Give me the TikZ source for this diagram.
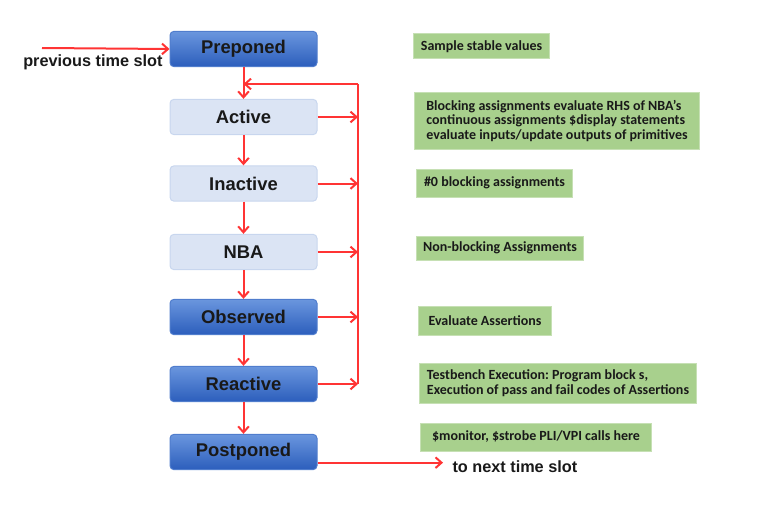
\documentclass[tikz,border=0pt]{standalone}
\usepackage{fontspec}
\setmainfont{Liberation Sans}
\newfontfamily\notefont{Carlito}
\usetikzlibrary{arrows.meta}
\tikzset{every picture/.style={line width=0.75pt}}
\definecolor{flowred}{RGB}{255,52,52}
\definecolor{darktop}{RGB}{106,150,222}
\definecolor{darkbot}{RGB}{44,94,188}
\definecolor{darkedge}{RGB}{80,125,205}
\definecolor{lightfill}{RGB}{219,228,244}
\definecolor{lightedge}{RGB}{200,214,238}
\definecolor{notefill}{RGB}{168,208,141}
\definecolor{noteedge}{RGB}{198,224,180}

\begin{document}
\frenchspacing
\begin{tikzpicture}[x=0.75pt,y=0.75pt,yscale=-1,xscale=1,
  region/.style={rounded corners=3pt,minimum width=110.25pt,minimum height=26.5pt,inner sep=0.75pt,font=\fontsize{13.8}{16}\selectfont\bfseries,text=black!90},
  regiondark/.style={region,draw=darkedge,top color=darktop,bottom color=darkbot},
  regionlight/.style={region,draw=lightedge,fill=lightfill},
  note/.style={anchor=west,draw=noteedge,fill=notefill,inner xsep=4.5pt,inner ysep=0.75pt,align=left,text=black!90,font=\notefont\fontsize{10.5}{10.8}\selectfont\bfseries},
  flow/.style={draw=flowred,line width=1.5pt,-{Straight Barb[length=4.5pt,width=8pt]}},
  slot/.style={inner sep=0.75pt,font=\fontsize{12.2}{14}\selectfont\bfseries,text=black!90}]
%set diagram size
\useasboundingbox (0,0) rectangle (766,506);

%Shape: Regions [id:regions]
\node (pre) [regiondark] at (243.5,49) {Preponed};
\node (act) [regionlight] at (243.5,117) {Active};
\node (inact) [regionlight] at (243.5,183.5) {Inactive};
\node (nba) [regionlight] at (243.5,252) {NBA};
\node (obs) [regiondark] at (243.5,317) {Observed};
\node (react) [regiondark] at (243.5,384) {Reactive};
\node (post) [regiondark] at (243.5,452) {Postponed};

%Shape: Notes [id:notes]
\node (nsample) [note,minimum width=102pt,minimum height=18.75pt] at (413,46.5) {Sample stable values};
\node (nact) [note,minimum width=213.75pt,minimum height=42pt] at (414,121) {Blocking assignments evaluate RHS of NBA’s\\continuous assignments \$display statements\\evaluate inputs/update outputs of primitives};
\node (ninact) [note,minimum width=117pt,minimum height=21pt] at (416,183) {\#0 blocking assignments};
\node (nnba) [note,minimum width=125.25pt,minimum height=18pt] at (416,248) {Non-blocking Assignments};
\node (nobs) [note,minimum width=99.75pt,minimum height=21.75pt] at (418,320.5) {Evaluate Assertions};
\node (nreact) [note,minimum width=207.75pt,minimum height=30pt] at (419,383) {Testbench Execution: Program block s,\\Execution of pass and fail codes of Assertions};
\node (npost) [note,minimum width=173.25pt,minimum height=21pt] at (420,437) {\$monitor, \$strobe PLI/VPI calls here};

% Text Node
\node (prev) [slot,anchor=east] at (164,62) {previous time slot};
% Text Node
\node (next) [slot,anchor=west,inner xsep=6.75pt] at (443,467) {to next time slot};

%Straight Lines [id:flow]
\coordinate (prevstart) at (42,48);
\coordinate (fbtop) at (358,84);
\draw [flow] (prevstart) -- (pre.west);
\draw [flow] (pre) -- (act);
\draw [flow] (act) -- (inact);
\draw [flow] (inact) -- (nba);
\draw [flow] (nba) -- (obs);
\draw [flow] (obs) -- (react);
\draw [flow] (react) -- (post);
\draw [flow] ([yshift=8pt]post.east) -- ([yshift=8pt]post.east -| next.west);

%Straight Lines [id:feedback]
\draw [draw=flowred,line width=1.5pt] (fbtop) -- (fbtop |- react.east);
\draw [flow] (fbtop) -- (fbtop -| pre.south);
\foreach \r in {act,inact,nba,obs,react}
  \draw [flow] (\r.east) -- (\r.east -| fbtop);

\end{tikzpicture}
\end{document}
